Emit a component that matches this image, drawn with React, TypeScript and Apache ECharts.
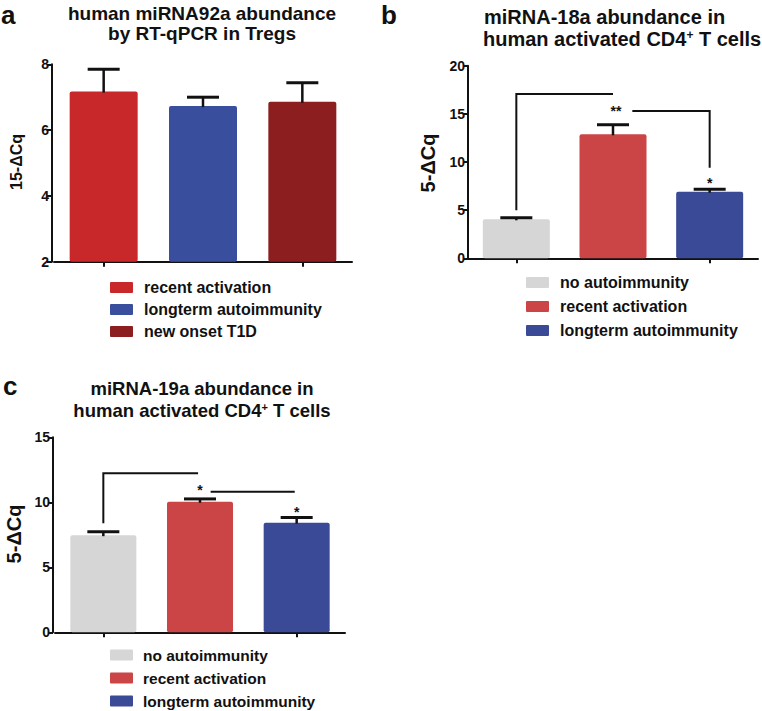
import React, { useEffect, useRef } from 'react';
import * as echarts from 'echarts';

// ---------- data ----------
const catsA = ['recent activation', 'longterm autoimmunity', 'new onset T1D'];
const meanA = [7.17, 6.73, 6.86];
const errTopA = [7.85, 7.0, 7.44];
const colorsA = ['#c9282b', '#394e9c', '#8c1e1f'];
const ticksA = [2, 4, 6, 8];

const catsBC = ['no autoimmunity', 'recent activation', 'longterm autoimmunity'];
const colorsBC = ['#d6d6d6', '#cb4547', '#3a4a96'];

const meanB = [4.05, 12.88, 6.92];
const errTopB = [4.22, 13.87, 7.16];
const ticksB = [0, 5, 10, 15, 20];
const bracketsB = [
  [[0, 5.0], [0, 17.05], [1, 17.05]],
  [[1.2, 15.3], [2, 15.3], [2, 9.4]],
];
const starsB: [number, number, string][] = [[1.03, 15.3, '**'], [2, 7.82, '*']];

const meanC = [7.47, 10.04, 8.43];
const errTopC = [7.74, 10.26, 8.84];
const ticksC = [0, 5, 10, 15];
const bracketsC = [
  [[0, 8.38], [0, 12.23], [0.98, 12.23]],
  [[1.11, 10.82], [1.98, 10.82]],
];
const starsC: [number, number, string][] = [[1, 10.97, '*'], [2, 9.23, '*']];

// ---------- style ----------
const FONT = '"Liberation Sans", Arial, Helvetica, sans-serif';
const INK = '#111111';

type Panel = {
  cats: string[];
  means: number[];
  errs: number[];
  colors: string[];
  ticks: number[];
  grid: { left: number; top: number; width: number; height: number };
  yOffset: number;
  barWidth: number;
  brackets: number[][][];
  stars: [number, number, string][];
};

const panels: Panel[] = [
  { cats: catsA, means: meanA, errs: errTopA, colors: colorsA, ticks: ticksA,
    grid: { left: 54, top: 64.3, width: 298, height: 197.4 }, yOffset: 2, barWidth: 68,
    brackets: [], stars: [] },
  { cats: catsBC, means: meanB, errs: errTopB, colors: colorsBC, ticks: ticksB,
    grid: { left: 468, top: 65.7, width: 290, height: 192.6 }, yOffset: 0, barWidth: 67,
    brackets: bracketsB, stars: starsB },
  { cats: catsBC, means: meanC, errs: errTopC, colors: colorsBC, ticks: ticksC,
    grid: { left: 55, top: 437.3, width: 290, height: 195 }, yOffset: 2, barWidth: 66,
    brackets: bracketsC, stars: starsC },
];

function coordAt(api: any, x: number, y: number): number[] {
  const i = Math.floor(x);
  const f = x - i;
  const p0 = api.coord([i, y]);
  if (f < 1e-9) return p0;
  const p1 = api.coord([i + 1, y]);
  return [p0[0] + f * (p1[0] - p0[0]), p0[1]];
}

function buildOption() {
  const lineStyle = { color: INK, width: 2 };
  const grid = panels.map((p) => ({ ...p.grid, containLabel: false }));
  const xAxis = panels.map((p, i) => ({
    type: 'category', gridIndex: i, data: p.cats,
    axisLine: { show: true, lineStyle },
    axisTick: { show: true, alignWithLabel: true, length: 5, lineStyle },
    axisLabel: { show: false },
    splitLine: { show: false },
  }));
  const yAxis = panels.map((p, i) => ({
    type: 'value', gridIndex: i,
    min: p.ticks[0], max: p.ticks[p.ticks.length - 1],
    interval: p.ticks[1] - p.ticks[0],
    offset: p.yOffset,
    axisLine: { show: true, lineStyle },
    axisTick: { show: true, length: 5, lineStyle },
    axisLabel: { color: INK, fontWeight: 'bold', fontSize: 14, fontFamily: FONT, margin: 3 },
    splitLine: { show: false },
  }));

  const series: any[] = [];
  panels.forEach((p, i) => {
    series.push({
      type: 'bar', xAxisIndex: i, yAxisIndex: i, barWidth: p.barWidth,
      data: p.means.map((v, k) => ({ value: v, itemStyle: { color: p.colors[k], borderRadius: 2 } })),
      z: 2,
    });
    series.push({
      type: 'custom', xAxisIndex: i, yAxisIndex: i, z: 3,
      data: p.means.map((m, k) => [k, m, p.errs[k]]),
      renderItem: (params: any, api: any) => {
        const a = api.coord([api.value(0), api.value(1)]);
        const b = api.coord([api.value(0), api.value(2)]);
        return {
          type: 'group',
          children: [
            { type: 'line', shape: { x1: a[0], y1: a[1] + 1, x2: b[0], y2: b[1] },
              style: { stroke: INK, lineWidth: 2.5 } },
            { type: 'line', shape: { x1: b[0] - 16, y1: b[1], x2: b[0] + 16, y2: b[1] },
              style: { stroke: INK, lineWidth: 3 } },
          ],
        };
      },
    });
    if (p.brackets.length) {
      series.push({
        type: 'custom', xAxisIndex: i, yAxisIndex: i, z: 4,
        data: p.brackets.map((b, k) => [k, b[0][1]]),
        renderItem: (params: any, api: any) => {
          const pts = p.brackets[params.dataIndex].map((q) => coordAt(api, q[0], q[1]));
          return { type: 'polyline', shape: { points: pts },
            style: { stroke: INK, lineWidth: 2, fill: 'none' } };
        },
      });
      series.push({
        type: 'custom', xAxisIndex: i, yAxisIndex: i, z: 4,
        data: p.stars.map((s) => [Math.round(s[0]), s[1]]),
        renderItem: (params: any, api: any) => {
          const s = p.stars[params.dataIndex];
          const pt = coordAt(api, s[0], s[1]);
          return { type: 'text', x: pt[0], y: pt[1],
            style: { text: s[2], fill: INK, fontSize: 14, fontWeight: 'bold', fontFamily: FONT,
              align: 'center', verticalAlign: 'middle' } };
        },
      });
    }
  });

  const txt = (text: string, x: number, y: number, size: number, align = 'center', extra: any = {}) => ({
    type: 'text', x, y, ...extra,
    style: { text, fill: INK, fontSize: size, fontWeight: 'bold', fontFamily: FONT,
      align, verticalAlign: 'middle' },
  });

  const graphic: any[] = [];
  // panel letters
  graphic.push(txt('a', 1, 15, 26, 'left'));
  graphic.push(txt('b', 381, 15, 26, 'left'));
  graphic.push(txt('c', 3, 386, 26, 'left'));
  // titles
  graphic.push(txt('human miRNA92a abundance', 202, 13.4, 19));
  graphic.push(txt('by RT-qPCR in Tregs', 202, 33.4, 19));
  graphic.push(txt('miRNA-18a abundance in', 484, 17, 20, 'left'));
  const supLine = (x: number, y: number, size: number, align: string) => ({
    type: 'text', x, y,
    style: {
      text: '{n|human activated CD4}{s|+}{n| T cells}',
      align, verticalAlign: 'middle',
      rich: {
        n: { fontSize: size, fontWeight: 'bold', fontFamily: FONT, fill: INK, lineHeight: size },
        s: { fontSize: Math.round(size * 0.6), fontWeight: 'bold', fontFamily: FONT, fill: INK,
          verticalAlign: 'top', lineHeight: size * 0.6, padding: [0, 0, 0, 0] },
      },
    },
  });
  graphic.push(supLine(483, 39, 20, 'left'));
  graphic.push(txt('miRNA-19a abundance in', 202, 388.5, 18.5));
  graphic.push(supLine(202, 410.5, 18.5, 'center'));
  // y-axis names
  graphic.push(txt('15-\u0394Cq', 16, 162, 16, 'center', { rotation: Math.PI / 2 }));
  graphic.push(txt('5-\u0394Cq', 428, 163, 20, 'center', { rotation: Math.PI / 2 }));
  graphic.push(txt('5-\u0394Cq', 14, 534, 20, 'center', { rotation: Math.PI / 2 }));

  // legends
  const legends = [
    { cats: catsA, colors: colorsA, x: 110, tx: 144, rows: [287.5, 309.5, 331.5], size: 16 },
    { cats: catsBC, colors: colorsBC, x: 526, tx: 560, rows: [282.5, 306.5, 330.5], size: 16 },
    { cats: catsBC, colors: colorsBC, x: 110, tx: 143, rows: [655, 678, 701], size: 15.5 },
  ];
  legends.forEach((L) => {
    L.cats.forEach((c, k) => {
      graphic.push({ type: 'rect', x: L.x, y: L.rows[k] - 5.5,
        shape: { x: 0, y: 0, width: 23, height: 11, r: 1 }, style: { fill: L.colors[k] } });
      graphic.push(txt(c, L.tx, L.rows[k], L.size, 'left'));
    });
  });

  return { animation: false, backgroundColor: '#ffffff', grid, xAxis, yAxis, series, graphic };
}

export default function App() {
  const ref = useRef<HTMLDivElement>(null);
  useEffect(() => {
    document.body.style.margin = '0';
    if (!ref.current) return;
    const chart = echarts.init(ref.current, null, { renderer: 'svg' });
    chart.setOption(buildOption() as any);
    return () => chart.dispose();
  }, []);
  return <div ref={ref} style={{ width: 762, height: 711 }} />;
}
